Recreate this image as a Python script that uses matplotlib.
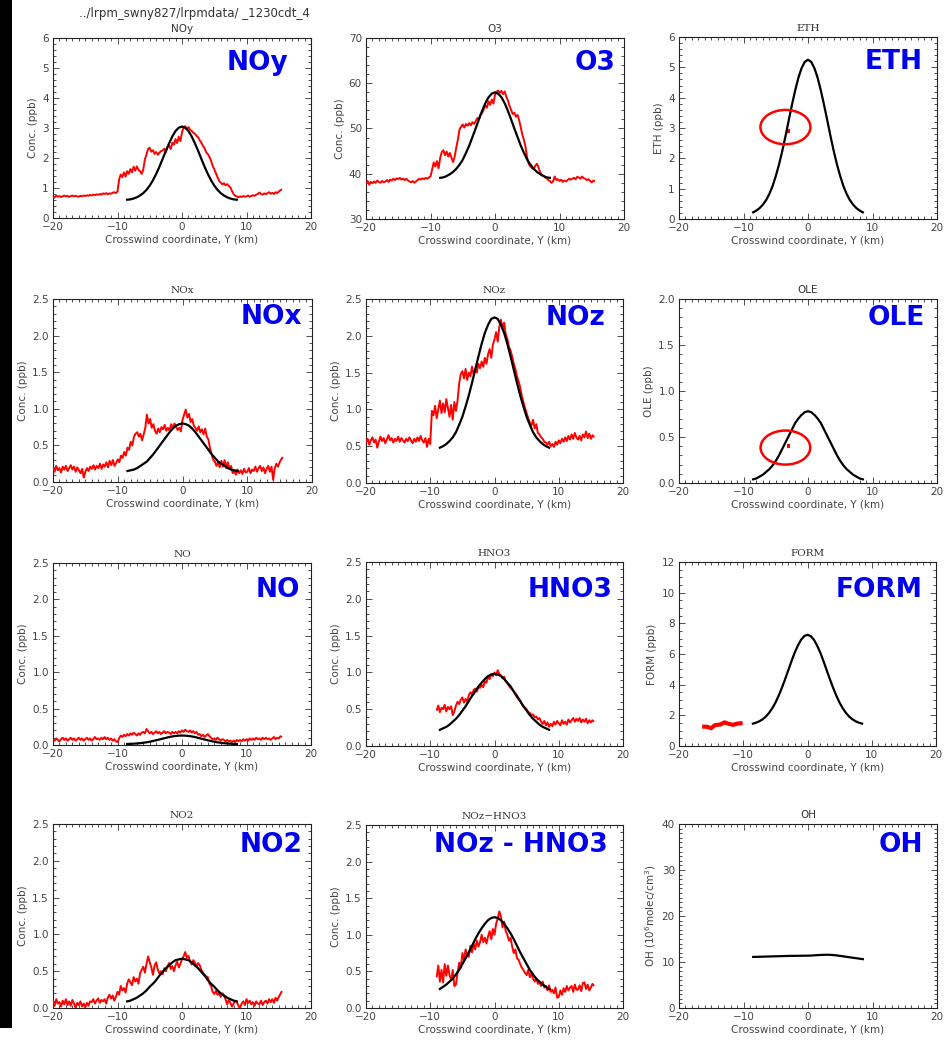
import numpy as np
import matplotlib
matplotlib.use("Agg")
import matplotlib.pyplot as plt
from matplotlib.ticker import MultipleLocator, FormatStrFormatter
from matplotlib.patches import Ellipse, Rectangle

W, H = 948, 1041

# ---------------- data ----------------
HEADER = "../lrpm_swny827/lrpmdata/ _1230cdt_4"
XLABEL = "Crosswind coordinate, Y (km)"

Y_FULL = np.arange(-20.0, 15.51, 0.25)   # aircraft samples, 143
Y_PART = np.arange(-9.0, 15.51, 0.25)    # 99 samples
Y_MODEL = np.arange(-8.5, 8.51, 0.5)     # model grid, 35

noy_obs = [0.72, 0.69, 0.74, 0.71, 0.73, 0.70, 0.72, 0.75, 0.72, 0.74, 0.70, 0.73,
           0.75, 0.72, 0.74, 0.72, 0.71, 0.74, 0.72, 0.75, 0.73, 0.76, 0.74, 0.77,
           0.75, 0.78, 0.76, 0.79, 0.77, 0.80, 0.78, 0.82, 0.80, 0.83, 0.79, 0.82,
           0.81, 0.84, 0.86, 0.83, 0.88, 1.28, 1.45, 1.36, 1.52, 1.38, 1.56, 1.47,
           1.63, 1.52, 1.71, 1.58, 1.72, 1.60, 1.56, 1.47, 1.62, 1.96, 2.12, 2.31,
           2.34, 2.21, 2.26, 2.14, 2.20, 2.11, 2.18, 2.23, 2.25, 2.31, 2.20, 2.36,
           2.41, 2.30, 2.51, 2.44, 2.63, 2.50, 2.71, 2.56, 2.86, 3.01, 3.06, 2.96,
           3.03, 2.94, 2.90, 2.84, 2.81, 2.74, 2.69, 2.59, 2.51, 2.40, 2.33, 2.19,
           2.13, 2.04, 1.91, 1.74, 1.63, 1.49, 1.36, 1.24, 1.18, 1.12, 1.16, 1.09,
           1.13, 1.07, 1.02, 0.90, 0.80, 0.74, 0.72, 0.69, 0.72, 0.70, 0.73, 0.71,
           0.72, 0.75, 0.71, 0.73, 0.76, 0.74, 0.78, 0.80, 0.85, 0.80, 0.78, 0.82,
           0.79, 0.83, 0.86, 0.81, 0.84, 0.80, 0.86, 0.83, 0.88, 0.92, 0.96]
noy_mod = [0.61, 0.62, 0.65, 0.69, 0.75, 0.83, 0.94, 1.08, 1.26, 1.47, 1.71, 1.97,
           2.24, 2.49, 2.72, 2.90, 3.01, 3.05, 3.01, 2.90, 2.72, 2.49, 2.24, 1.97,
           1.71, 1.47, 1.26, 1.08, 0.94, 0.83, 0.75, 0.69, 0.65, 0.62, 0.61]

o3_obs = [37.8, 38.4, 37.6, 38.2, 37.9, 38.3, 38.0, 38.5, 38.2, 38.0, 38.4, 38.1,
          38.3, 38.6, 38.2, 38.7, 38.5, 38.9, 38.6, 39.0, 38.8, 39.1, 38.7, 38.9,
          38.6, 38.9, 38.5, 38.3, 38.1, 38.4, 38.0, 38.3, 38.6, 38.9, 38.7, 39.0,
          38.8, 39.1, 38.9, 39.2, 39.4, 41.0, 42.5, 41.6, 42.8, 41.2, 43.5, 44.8,
          45.2, 44.1, 44.9, 43.8, 44.6, 43.5, 42.6, 43.8, 45.8, 47.6, 49.8, 50.4,
          50.9, 50.2, 51.0, 50.6, 51.2, 50.7, 51.4, 51.0, 51.6, 52.3, 52.0, 53.1,
          53.4, 54.2, 55.1, 54.6, 56.0, 55.2, 56.4, 55.5, 57.4, 58.1, 58.4, 57.9,
          58.3, 57.6, 58.2, 57.0, 56.2, 55.0, 54.1, 53.2, 53.5, 52.6, 53.0, 51.8,
          50.2, 48.6, 47.4, 45.8, 43.4, 42.1, 41.6, 41.2, 41.0, 41.8, 42.2, 41.4,
          40.3, 39.8, 39.6, 39.2, 39.0, 38.6, 38.4, 38.0, 38.3, 39.4, 38.6, 38.8,
          38.4, 38.7, 38.2, 38.5, 38.3, 38.6, 38.9, 38.7, 38.9, 39.1, 38.8, 39.3,
          39.2, 38.9, 39.4, 39.0, 38.9, 38.6, 38.8, 38.4, 38.1, 38.5, 38.3]
o3_mod = [39.1, 39.2, 39.5, 39.9, 40.4, 41.1, 42.0, 43.1, 44.6, 46.2, 48.1, 50.0,
          52.0, 53.9, 55.6, 56.9, 57.7, 58.0, 57.7, 56.9, 55.6, 53.9, 52.0, 50.0,
          48.1, 46.2, 44.6, 43.1, 42.0, 41.1, 40.4, 39.9, 39.5, 39.2, 39.1]

eth_obs_x = [-3.4, -2.8]
eth_obs = [2.9, 2.9]
eth_mod = [0.22, 0.28, 0.36, 0.47, 0.62, 0.82, 1.08, 1.41, 1.79, 2.23, 2.72, 3.24,
           3.75, 4.23, 4.65, 4.97, 5.18, 5.25, 5.18, 4.97, 4.65, 4.23, 3.75, 3.24,
           2.72, 2.23, 1.79, 1.41, 1.08, 0.82, 0.62, 0.47, 0.36, 0.28, 0.22]

nox_obs = [0.20, 0.14, 0.22, 0.16, 0.19, 0.13, 0.21, 0.17, 0.22, 0.15, 0.19, 0.23,
           0.17, 0.21, 0.14, 0.20, 0.16, 0.12, 0.18, 0.06, 0.14, 0.19, 0.15, 0.21,
           0.18, 0.23, 0.17, 0.22, 0.19, 0.25, 0.18, 0.24, 0.21, 0.27, 0.20, 0.29,
           0.23, 0.30, 0.22, 0.26, 0.31, 0.27, 0.36, 0.33, 0.41, 0.36, 0.47, 0.44,
           0.55, 0.50, 0.62, 0.66, 0.68, 0.62, 0.66, 0.57, 0.65, 0.74, 0.92, 0.80,
           0.86, 0.74, 0.79, 0.70, 0.66, 0.73, 0.68, 0.75, 0.72, 0.78, 0.70, 0.74,
           0.70, 0.79, 0.73, 0.80, 0.76, 0.71, 0.74, 0.69, 0.85, 0.92, 0.99, 0.88,
           0.93, 0.82, 0.86, 0.77, 0.74, 0.70, 0.76, 0.68, 0.72, 0.65, 0.73, 0.62,
           0.58, 0.46, 0.38, 0.30, 0.28, 0.22, 0.27, 0.20, 0.29, 0.21, 0.30, 0.19,
           0.27, 0.18, 0.22, 0.12, 0.15, 0.10, 0.17, 0.12, 0.16, 0.11, 0.18, 0.13,
           0.14, 0.19, 0.12, 0.17, 0.15, 0.21, 0.14, 0.19, 0.22, 0.15, 0.20, 0.12,
           0.18, 0.22, 0.14, 0.21, 0.03, 0.19, 0.25, 0.21, 0.27, 0.31, 0.34]
nox_mod = [0.15, 0.16, 0.17, 0.19, 0.22, 0.25, 0.28, 0.33, 0.38, 0.44, 0.50, 0.56,
           0.62, 0.68, 0.73, 0.77, 0.79, 0.80, 0.79, 0.77, 0.73, 0.68, 0.62, 0.56,
           0.50, 0.44, 0.38, 0.33, 0.28, 0.25, 0.22, 0.19, 0.17, 0.16, 0.15]

noz_obs = [0.55, 0.60, 0.52, 0.58, 0.62, 0.55, 0.59, 0.48, 0.56, 0.63, 0.57, 0.61,
           0.54, 0.59, 0.65, 0.58, 0.61, 0.55, 0.60, 0.57, 0.63, 0.56, 0.61, 0.58,
           0.55, 0.60, 0.57, 0.62, 0.58, 0.54, 0.60, 0.56, 0.62, 0.57, 0.64, 0.58,
           0.55, 0.61, 0.49, 0.60, 0.53, 0.98, 0.92, 1.05, 0.88, 1.00, 1.12, 0.95,
           1.08, 0.96, 1.14, 1.02, 0.90, 1.06, 0.86, 1.10, 0.98, 1.12, 1.35, 1.48,
           1.52, 1.42, 1.55, 1.40, 1.50, 1.45, 1.58, 1.47, 1.55, 1.50, 1.62, 1.56,
           1.65, 1.58, 1.70, 1.62, 1.75, 1.82, 1.70, 1.88, 1.95, 2.05, 1.92, 2.12,
           2.22, 2.10, 2.18, 2.02, 1.96, 1.85, 1.80, 1.72, 1.62, 1.55, 1.45, 1.38,
           1.30, 1.18, 1.10, 1.02, 0.95, 0.88, 0.82, 0.78, 0.86, 0.74, 0.80, 0.68,
           0.66, 0.62, 0.60, 0.56, 0.55, 0.52, 0.56, 0.50, 0.53, 0.49, 0.56, 0.52,
           0.58, 0.54, 0.60, 0.56, 0.62, 0.57, 0.64, 0.59, 0.66, 0.60, 0.68, 0.62,
           0.59, 0.64, 0.58, 0.66, 0.62, 0.70, 0.61, 0.67, 0.60, 0.65, 0.62]
noz_mod = [0.48, 0.50, 0.53, 0.57, 0.62, 0.69, 0.79, 0.90, 1.04, 1.19, 1.36, 1.54,
           1.72, 1.89, 2.04, 2.15, 2.23, 2.25, 2.23, 2.15, 2.04, 1.89, 1.72, 1.54,
           1.36, 1.19, 1.04, 0.90, 0.79, 0.69, 0.62, 0.57, 0.53, 0.50, 0.48]

ole_obs_x = [-3.3, -2.75]
ole_obs = [0.40, 0.40]
ole_mod = [0.04, 0.05, 0.07, 0.09, 0.12, 0.15, 0.19, 0.24, 0.30, 0.37, 0.44, 0.51,
           0.58, 0.65, 0.70, 0.74, 0.77, 0.78, 0.77, 0.74, 0.70, 0.65, 0.58, 0.51,
           0.44, 0.37, 0.30, 0.24, 0.19, 0.15, 0.12, 0.09, 0.07, 0.05, 0.04]

no_obs = [0.08, 0.06, 0.09, 0.07, 0.05, 0.08, 0.10, 0.07, 0.09, 0.06, 0.08, 0.10,
          0.07, 0.09, 0.06, 0.08, 0.10, 0.07, 0.09, 0.06, 0.08, 0.10, 0.07, 0.09,
          0.06, 0.08, 0.11, 0.08, 0.09, 0.07, 0.10, 0.08, 0.11, 0.08, 0.10, 0.07,
          0.09, 0.06, 0.08, 0.05, 0.04, 0.09, 0.13, 0.11, 0.14, 0.12, 0.15, 0.13,
          0.16, 0.14, 0.17, 0.15, 0.13, 0.16, 0.14, 0.17, 0.18, 0.16, 0.22, 0.19,
          0.16, 0.18, 0.15, 0.17, 0.19, 0.16, 0.18, 0.15, 0.17, 0.19, 0.16, 0.18,
          0.17, 0.15, 0.18, 0.16, 0.18, 0.16, 0.19, 0.17, 0.20, 0.18, 0.21, 0.19,
          0.18, 0.20, 0.17, 0.19, 0.16, 0.18, 0.14, 0.15, 0.12, 0.14, 0.11, 0.13,
          0.15, 0.12, 0.10, 0.08, 0.09, 0.07, 0.10, 0.08, 0.06, 0.08, 0.07, 0.05,
          0.07, 0.05, 0.06, 0.04, 0.06, 0.04, 0.07, 0.05, 0.07, 0.05, 0.08, 0.06,
          0.08, 0.06, 0.09, 0.07, 0.09, 0.07, 0.10, 0.08, 0.09, 0.07, 0.10, 0.08,
          0.10, 0.08, 0.09, 0.07, 0.09, 0.11, 0.08, 0.10, 0.09, 0.12, 0.11]
no_mod = [0.014, 0.015, 0.018, 0.021, 0.025, 0.031, 0.037, 0.045, 0.055, 0.065,
          0.076, 0.087, 0.098, 0.109, 0.118, 0.124, 0.129, 0.130, 0.129, 0.124,
          0.118, 0.109, 0.098, 0.087, 0.076, 0.065, 0.055, 0.045, 0.037, 0.031,
          0.025, 0.021, 0.018, 0.015, 0.014]

hno3_obs = [0.48, 0.55, 0.46, 0.52, 0.50, 0.56, 0.47, 0.53, 0.50, 0.54, 0.42, 0.47,
            0.55, 0.60, 0.57, 0.63, 0.66, 0.59, 0.64, 0.60, 0.69, 0.73, 0.70, 0.76,
            0.78, 0.74, 0.80, 0.79, 0.83, 0.80, 0.88, 0.86, 0.94, 0.91, 0.98, 0.95,
            1.00, 0.96, 1.03, 0.98, 0.96, 0.92, 0.94, 0.88, 0.85, 0.82, 0.79, 0.77,
            0.74, 0.70, 0.66, 0.63, 0.62, 0.57, 0.54, 0.52, 0.50, 0.46, 0.45, 0.42,
            0.43, 0.39, 0.40, 0.36, 0.38, 0.33, 0.30, 0.34, 0.28, 0.32, 0.26, 0.30,
            0.27, 0.33, 0.29, 0.34, 0.31, 0.28, 0.35, 0.30, 0.33, 0.29, 0.36, 0.32,
            0.35, 0.38, 0.33, 0.37, 0.34, 0.38, 0.32, 0.36, 0.33, 0.37, 0.31, 0.35,
            0.32, 0.35, 0.33]
hno3_mod = [0.22, 0.24, 0.26, 0.29, 0.33, 0.37, 0.42, 0.48, 0.54, 0.61, 0.68, 0.74,
            0.81, 0.86, 0.91, 0.95, 0.97, 0.98, 0.97, 0.95, 0.91, 0.86, 0.81, 0.74,
            0.68, 0.61, 0.54, 0.48, 0.42, 0.37, 0.33, 0.29, 0.26, 0.24, 0.22]

form_obs_x = [-16.4, -15.6, -15.0, -14.4, -13.6, -12.9, -12.3, -11.6, -10.9, -10.1]
form_obs = [1.27, 1.25, 1.16, 1.36, 1.40, 1.54, 1.45, 1.38, 1.46, 1.50]
form_mod = [1.46, 1.52, 1.61, 1.74, 1.91, 2.15, 2.45, 2.82, 3.27, 3.78, 4.34, 4.93,
            5.52, 6.08, 6.55, 6.93, 7.17, 7.25, 7.17, 6.93, 6.55, 6.08, 5.52, 4.93,
            4.34, 3.78, 3.27, 2.82, 2.45, 2.15, 1.91, 1.74, 1.61, 1.52, 1.46]

no2_obs = [0.10, 0.03, 0.12, 0.06, 0.08, 0.02, 0.10, 0.05, 0.12, 0.04, 0.09, 0.03,
           0.11, 0.06, 0.00, 0.07, 0.04, 0.09, 0.02, 0.06, 0.01, 0.07, 0.03, 0.09,
           0.08, 0.12, 0.06, 0.10, 0.13, 0.07, 0.11, 0.09, 0.12, 0.06, 0.14, 0.18,
           0.13, 0.17, 0.10, 0.15, 0.22, 0.18, 0.30, 0.24, 0.27, 0.21, 0.33, 0.39,
           0.35, 0.31, 0.42, 0.36, 0.40, 0.33, 0.47, 0.52, 0.56, 0.48, 0.60, 0.70,
           0.62, 0.55, 0.45, 0.58, 0.62, 0.52, 0.47, 0.50, 0.46, 0.54, 0.50, 0.57,
           0.61, 0.53, 0.57, 0.50, 0.58, 0.63, 0.55, 0.60, 0.66, 0.70, 0.76, 0.68,
           0.71, 0.63, 0.59, 0.65, 0.62, 0.56, 0.61, 0.58, 0.52, 0.48, 0.45, 0.43,
           0.42, 0.33, 0.30, 0.22, 0.19, 0.23, 0.18, 0.21, 0.15, 0.20, 0.17, 0.12,
           0.05, 0.11, 0.07, 0.02, 0.06, 0.10, 0.08, 0.03, 0.00, 0.06, 0.09, 0.04,
           0.12, 0.07, 0.10, 0.05, 0.08, 0.03, 0.09, 0.06, 0.05, 0.10, 0.04, 0.08,
           0.10, 0.06, 0.12, 0.08, 0.12, 0.07, 0.14, 0.10, 0.15, 0.19, 0.23]
no2_mod = [0.09, 0.10, 0.12, 0.14, 0.17, 0.20, 0.24, 0.29, 0.33, 0.38, 0.44, 0.49,
           0.54, 0.58, 0.62, 0.65, 0.66, 0.67, 0.66, 0.65, 0.62, 0.58, 0.54, 0.49,
           0.44, 0.38, 0.33, 0.29, 0.24, 0.20, 0.17, 0.14, 0.12, 0.10, 0.09]

nozh_obs = [0.42, 0.58, 0.36, 0.52, 0.35, 0.60, 0.44, 0.58, 0.45, 0.38, 0.52, 0.30,
            0.32, 0.48, 0.62, 0.55, 0.75, 0.66, 0.80, 0.72, 0.70, 0.85, 0.76, 0.88,
            0.80, 0.92, 0.84, 0.90, 1.00, 0.90, 0.96, 0.88, 0.98, 1.05, 0.94, 1.08,
            1.00, 1.15, 1.22, 1.32, 1.25, 1.10, 1.18, 1.05, 1.00, 0.92, 0.96, 0.84,
            0.75, 0.80, 0.68, 0.66, 0.60, 0.55, 0.52, 0.48, 0.45, 0.52, 0.42, 0.47,
            0.40, 0.36, 0.41, 0.33, 0.35, 0.30, 0.36, 0.28, 0.30, 0.24, 0.31, 0.22,
            0.25, 0.20, 0.28, 0.14, 0.15, 0.24, 0.18, 0.27, 0.22, 0.30, 0.24, 0.28,
            0.30, 0.22, 0.32, 0.25, 0.25, 0.31, 0.23, 0.34, 0.35, 0.26, 0.32, 0.24,
            0.28, 0.33, 0.30]
nozh_mod = [0.26, 0.29, 0.32, 0.36, 0.40, 0.46, 0.52, 0.60, 0.68, 0.76, 0.85, 0.94,
            1.02, 1.09, 1.15, 1.20, 1.23, 1.24, 1.23, 1.20, 1.15, 1.09, 1.02, 0.94,
            0.85, 0.76, 0.68, 0.60, 0.52, 0.46, 0.40, 0.36, 0.32, 0.29, 0.26]

oh_mod = [11.10, 11.12, 11.14, 11.16, 11.18, 11.20, 11.22, 11.24, 11.26, 11.28,
          11.30, 11.32, 11.33, 11.34, 11.35, 11.36, 11.37, 11.38, 11.40, 11.45,
          11.50, 11.53, 11.56, 11.58, 11.55, 11.50, 11.42, 11.32, 11.22, 11.12,
          11.02, 10.92, 10.82, 10.72, 10.62]

# ---------------- layout ----------------
fig = plt.figure(figsize=(W / 100, H / 100), dpi=100)
fig.patch.set_facecolor("white")
fig.add_artist(Rectangle((0, (H - 1028) / H), 12 / W, 1028 / H,
                         transform=fig.transFigure, color="black", lw=0))

def box(l, t, r, b):
    return [l / W, 1 - b / H, (r - l) / W, (b - t) / H]

RED = "#ff0000"
BLUE = "#0000ee"
TXT = "#444444"

panels = [
    # title, serif, ylabel, ylim, major, minor, fmt, obs_x, obs_y, obs_lw, model, tag, tag xy, box
    ("NOy", False, "Conc. (ppb)", (0, 6), 1, 0.2, "%d", Y_FULL, noy_obs, 1.4, noy_mod,
     "NOy", (288, 63), (53, 38, 311, 218)),
    ("O3", False, "Conc. (ppb)", (30, 70), 10, 2, "%d", Y_FULL, o3_obs, 1.4, o3_mod,
     "O3", (615, 63), (366, 38, 624, 219)),
    ("ETH", True, "ETH (ppb)", (0, 6), 1, 0.2, "%d", eth_obs_x, eth_obs, 3, eth_mod,
     "ETH", (923, 62), (679, 37, 937, 219)),
    ("NOx", True, "Conc. (ppb)", (0, 2.5), 0.5, 0.1, "%.1f", Y_FULL, nox_obs, 1.4, nox_mod,
     "NOx", (302, 317), (53, 299, 312, 482)),
    ("NOz", True, "Conc. (ppb)", (0, 2.5), 0.5, 0.1, "%.1f", Y_FULL, noz_obs, 1.4, noz_mod,
     "NOz", (605, 318), (366, 299, 623, 483)),
    ("OLE", False, "OLE (ppb)", (0, 2.0), 0.5, 0.1, "%.1f", ole_obs_x, ole_obs, 3, ole_mod,
     "OLE", (925, 318), (679, 299, 937, 483)),
    ("NO", True, "Conc. (ppb)", (0, 2.5), 0.5, 0.1, "%.1f", Y_FULL, no_obs, 1.4, no_mod,
     "NO", (300, 590), (53, 563, 311, 745)),
    ("HNO3", True, "Conc. (ppb)", (0, 2.5), 0.5, 0.1, "%.1f", Y_PART, hno3_obs, 1.4, hno3_mod,
     "HNO3", (613, 590), (366, 562, 623, 746)),
    ("FORM", True, "FORM (ppb)", (0, 12), 2, 0.5, "%d", form_obs_x, form_obs, 3, form_mod,
     "FORM", (922, 590), (679, 562, 936, 746)),
    ("NO2", True, "Conc. (ppb)", (0, 2.5), 0.5, 0.1, "%.1f", Y_FULL, no2_obs, 1.4, no2_mod,
     "NO2", (302, 845), (53, 824, 311, 1008)),
    ("NOz\u2212HNO3", True, "Conc. (ppb)", (0, 2.5), 0.5, 0.1, "%.1f", Y_PART, nozh_obs, 1.4,
     nozh_mod, "NOz - HNO3", (608, 845), (366, 825, 623, 1008)),
    ("OH", False, "OH (10$^6$molec/cm$^3$)", (0, 40), 10, 1, "%d", None, None, 0, oh_mod,
     "OH", (923, 845), (679, 824, 937, 1008)),
]

# highlight ellipses (data coords): panel title -> (center, width, height)
HIGHLIGHT = {"ETH": ((-3.5, 3.03), 7.75, 1.13), "OLE": ((-3.5, 0.385), 7.7, 0.37)}

for (title, serif, ylab, ylim, major, minor, fmt, ox, oy, olw, mod,
     tag, tagxy, bx) in panels:
    ax = fig.add_axes(box(*bx))
    if ox is not None:
        ax.plot(ox, oy, color=RED, lw=olw, solid_capstyle="butt", zorder=3)
    ax.plot(Y_MODEL, mod, color="black", lw=1.6, zorder=4)
    if title in HIGHLIGHT:
        c, w, h = HIGHLIGHT[title]
        ax.add_patch(Ellipse(c, w, h, fill=False, edgecolor=RED, lw=1.8, zorder=5))
    ax.set_xlim(-20, 20)
    ax.set_ylim(*ylim)
    ax.xaxis.set_major_locator(MultipleLocator(10))
    ax.xaxis.set_minor_locator(MultipleLocator(1))
    ax.yaxis.set_major_locator(MultipleLocator(major))
    ax.yaxis.set_minor_locator(MultipleLocator(minor))
    ax.yaxis.set_major_formatter(FormatStrFormatter(fmt))
    ax.tick_params(which="both", direction="in", top=True, right=True,
                   labelsize=7.5, labelcolor=TXT, pad=3, width=0.6, color="#333333")
    ax.tick_params(which="major", length=4)
    ax.tick_params(which="minor", length=2.2)
    for s in ax.spines.values():
        s.set_linewidth(0.8)
        s.set_color("#222222")
    ax.set_xlabel(XLABEL, fontsize=7.5, color=TXT, labelpad=2)
    ax.set_ylabel(ylab, fontsize=7.5, color=TXT, labelpad=3)
    ax.set_title(title, fontsize=7.5, color="#333333", pad=4,
                 family="DejaVu Serif" if serif else "DejaVu Sans")
    fig.text(tagxy[0] / W, 1 - tagxy[1] / H, tag, ha="right", va="center",
             fontsize=19, fontweight="bold", color=BLUE, family="DejaVu Sans")

fig.text(194 / W, 1 - 13 / H, HEADER, ha="center", va="center",
         fontsize=8.5, color="#333333")

fig.savefig("out.png", dpi=100)
